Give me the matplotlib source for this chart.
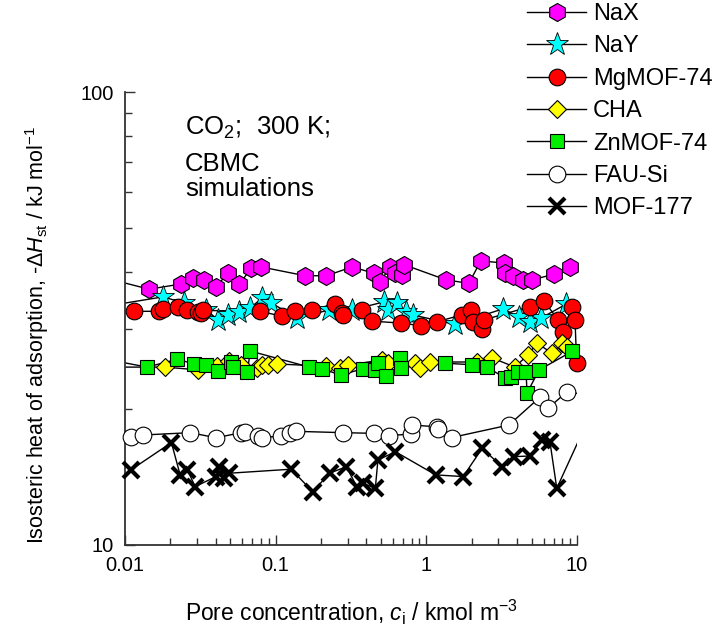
import matplotlib
matplotlib.use("Agg")
import matplotlib.pyplot as plt
from matplotlib.lines import Line2D
from matplotlib.ticker import LogLocator, NullFormatter, FixedLocator, FixedFormatter
import numpy as np

plt.rcParams['font.family'] = ['Liberation Sans', 'DejaVu Sans']
plt.rcParams['mathtext.fontset'] = 'custom'
plt.rcParams['mathtext.rm'] = 'Liberation Sans'
plt.rcParams['mathtext.it'] = 'Liberation Sans:italic'
plt.rcParams['mathtext.bf'] = 'Liberation Sans:bold'

# ---------------- data ----------------
nax_c = [0.0085, 0.01445, 0.0237, 0.0281, 0.0336, 0.0401, 0.0484, 0.0573, 0.0686, 0.080, 0.157, 0.217,
         0.322, 0.449, 0.495, 0.571, 0.617, 0.690, 0.707, 1.346, 1.915, 2.30, 3.29, 3.34, 3.74, 4.36,
         5.00, 7.08, 9.00]
nax_q = [38.4, 36.7, 37.7, 38.8, 38.5, 37.2, 39.8, 37.6, 40.8, 41.1, 39.3, 39.3,
         41.1, 39.8, 38.0, 41.1, 39.8, 39.4, 41.6, 38.5, 37.8, 42.4, 41.9, 39.8, 39.3, 38.5,
         38.5, 39.6, 41.1]

nay_c = [0.0085, 0.0179, 0.0247, 0.0346, 0.0416, 0.0484, 0.0573, 0.0679, 0.0815, 0.0936, 0.1394, 0.2243,
         0.319, 0.521, 0.553, 0.636, 0.730, 0.812, 1.545, 3.22, 4.12, 4.88, 5.77, 8.45]
nay_q = [33.9, 35.3, 34.2, 33.0, 31.4, 32.2, 32.7, 33.4, 35.1, 34.2, 31.7, 33.0,
         33.0, 34.4, 33.0, 34.2, 32.7, 32.2, 30.7, 33.2, 31.9, 31.1, 31.7, 34.0]

mg_c = [0.01148, 0.01683, 0.0179, 0.02253, 0.02586, 0.0306, 0.0321, 0.0330, 0.0791, 0.1108, 0.1352, 0.1755,
        0.2458, 0.2736, 0.278, 0.3717, 0.433, 0.6755, 0.918, 1.173, 1.72, 1.975, 2.036, 2.337, 2.41,
        4.88, 6.04, 7.48, 8.08, 9.27, 9.70, 9.95]
mg_q = [32.8, 32.8, 33.2, 33.5, 33.0, 32.7, 32.5, 32.95, 32.8, 31.97, 32.85, 33.0,
        34.1, 32.5, 32.2, 33.0, 31.2, 30.9, 30.5, 31.1, 32.2, 33.0, 31.1, 30.0, 31.4,
        33.6, 34.6, 31.4, 29.6, 33.6, 31.4, 25.2]

cha_c = [0.0085, 0.01846, 0.0306, 0.0409, 0.0492, 0.0591, 0.0755, 0.0815, 0.0894, 0.1026, 0.2174, 0.2653,
         0.300, 0.505, 0.553, 0.837, 0.904, 1.053, 2.165, 2.72, 3.87, 4.73, 5.43, 6.83, 7.96, 8.59]
cha_q = [24.7, 24.7, 24.35, 24.8, 25.5, 24.95, 24.6, 24.95, 24.95, 25.1, 24.8, 24.6,
         24.95, 25.6, 25.2, 25.2, 24.6, 25.35, 25.35, 25.9, 24.7, 26.3, 27.9, 26.5, 27.9, 27.4]

zn_c = [0.0085, 0.01401, 0.0222, 0.0288, 0.0346, 0.0416, 0.0507, 0.0523, 0.0648, 0.0679, 0.1676, 0.2045,
        0.2695, 0.3775, 0.4538, 0.475, 0.537, 0.665, 0.6755, 1.326, 2.0, 2.52, 3.32, 3.67, 4.06,
        4.59, 4.66, 5.60, 9.28]
zn_q = [25.5, 24.7, 25.7, 25.1, 24.95, 24.2, 25.35, 24.7, 24.1, 26.8, 24.7, 24.5,
        23.7, 24.5, 24.35, 25.2, 23.6, 25.9, 24.65, 25.2, 25.0, 24.7, 23.4, 23.5, 24.15,
        24.15, 21.65, 24.35, 26.75]

fau_c = [0.01096, 0.01318, 0.02707, 0.0403, 0.0591, 0.0629, 0.0767, 0.0815, 0.1091, 0.1253, 0.1373, 0.280,
         0.4467, 0.562, 0.79, 0.800, 1.173, 1.191, 1.476, 3.53, 5.68, 6.42, 8.59, 11.0]
fau_q = [17.31, 17.49, 17.70, 17.25, 17.70, 17.79, 17.40, 17.27, 17.40, 17.64, 17.82, 17.70,
         17.64, 17.43, 17.58, 18.40, 18.24, 18.03, 17.27, 18.40, 21.2, 20.03, 21.8, 21.5]

mof177_c = [0.01091, 0.02033, 0.02323, 0.02598, 0.02922, 0.0401, 0.0422, 0.0456, 0.0487, 0.1266, 0.1763,
            0.2277, 0.294, 0.346, 0.3793, 0.4585, 0.4772, 0.623, 1.155, 1.755, 2.348, 3.19, 3.815,
            4.875, 5.834, 6.62, 7.34, 11.0]
mof177_q = [14.64, 16.83, 14.28, 14.64, 13.45, 14.16, 14.89, 14.04, 14.40, 14.70, 13.11,
            14.40, 14.89, 13.45, 13.69, 13.34, 15.40, 16.07, 14.28, 14.16, 16.35, 14.87, 15.67,
            15.72, 17.06, 16.86, 13.34, 17.9]

labels = ["NaX", "NaY", "MgMOF-74", "CHA", "ZnMOF-74", "FAU-Si", "MOF-177"]
series = [(nax_c, nax_q), (nay_c, nay_q), (mg_c, mg_q), (cha_c, cha_q),
          (zn_c, zn_q), (fau_c, fau_q), (mof177_c, mof177_q)]

styles = [
    dict(marker='h', markersize=13, markerfacecolor='#FF00FF', markeredgecolor='black', markeredgewidth=0.8),
    dict(marker='*', markersize=17, markerfacecolor='#00FFFF', markeredgecolor='black', markeredgewidth=0.6),
    dict(marker='o', markersize=12, markerfacecolor='#FF0000', markeredgecolor='black', markeredgewidth=0.8),
    dict(marker='D', markersize=9, markerfacecolor='#FFFF00', markeredgecolor='black', markeredgewidth=0.8),
    dict(marker='s', markersize=10.5, markerfacecolor='#00EE00', markeredgecolor='black', markeredgewidth=0.8),
    dict(marker='o', markersize=12, markerfacecolor='white', markeredgecolor='black', markeredgewidth=0.8),
    dict(marker='x', markersize=11, markerfacecolor='black', markeredgecolor='black', markeredgewidth=3),
]

W, H = 725, 641
fig = plt.figure(figsize=(W / 100, H / 100), dpi=100)
ax_l, ax_r, ax_t, ax_b = 125, 577, 92, 545
ax = fig.add_axes([ax_l / W, 1 - ax_b / H, (ax_r - ax_l) / W, (ax_b - ax_t) / H])

handles = []
for (c, q), st, lab in zip(series, styles, labels):
    c = np.asarray(c, float)
    q = np.asarray(q, float)
    ax.plot(c, q, '-', color='black', lw=1.0, zorder=2)
    m = (c >= 0.01) & (c <= 10.0)
    ax.plot(c[m], q[m], linestyle='none', clip_on=False, zorder=3, **st)
    handles.append(Line2D([], [], color='black', lw=1.0, **st))

ax.set_xscale('log')
ax.set_yscale('log')
ax.set_xlim(0.01, 10)
ax.set_ylim(10, 100)

ax.xaxis.set_major_locator(FixedLocator([0.01, 0.1, 1, 10]))
ax.xaxis.set_major_formatter(FixedFormatter(["0.01", "0.1", "1", "10"]))
ax.xaxis.set_minor_locator(LogLocator(base=10, subs=np.arange(2, 10)))
ax.xaxis.set_minor_formatter(NullFormatter())
ax.yaxis.set_major_locator(FixedLocator([10, 100]))
ax.yaxis.set_major_formatter(FixedFormatter(["10", "100"]))
ax.yaxis.set_minor_locator(LogLocator(base=10, subs=np.arange(2, 10)))
ax.yaxis.set_minor_formatter(NullFormatter())

for s in ['top', 'right']:
    ax.spines[s].set_visible(False)
for s in ['left', 'bottom']:
    ax.spines[s].set_linewidth(1.3)
    ax.spines[s].set_color('#333333')

ax.tick_params(which='major', direction='in', length=7, width=1, color='#333333', labelsize=14.5, pad=8)
ax.tick_params(which='minor', direction='in', length=5, width=1, color='#333333')

fig.text(37 / W, 1 - 335 / H, r"Isosteric heat of adsorption, -$\Delta H_{\rm st}$ / kJ mol$^{-1}$",
         rotation=90, ha='center', va='center', fontsize=15.5)
fig.text(351 / W, 1 - 612 / H, r"Pore concentration, $c_{\rm i}$ / kmol m$^{-3}$",
         ha='center', va='center', fontsize=16.5)

ann_fs = 18.5
fig.text(185 / W, 1 - 135 / H, "CO$_2$;  300 K;", ha='left', va='baseline', fontsize=ann_fs)
fig.text(185 / W, 1 - 171 / H, "CBMC", ha='left', va='baseline', fontsize=ann_fs)
fig.text(185 / W, 1 - 196 / H, "simulations", ha='left', va='baseline', fontsize=ann_fs)

fig.legend(handles=handles, labels=labels, loc='upper left',
           bbox_to_anchor=(527 / W, 1 - 3 / H), frameon=False, fontsize=17,
           handlelength=2.5, handletextpad=0.3, labelspacing=0.44, borderpad=0, borderaxespad=0)

fig.savefig("out.png", dpi=100)
